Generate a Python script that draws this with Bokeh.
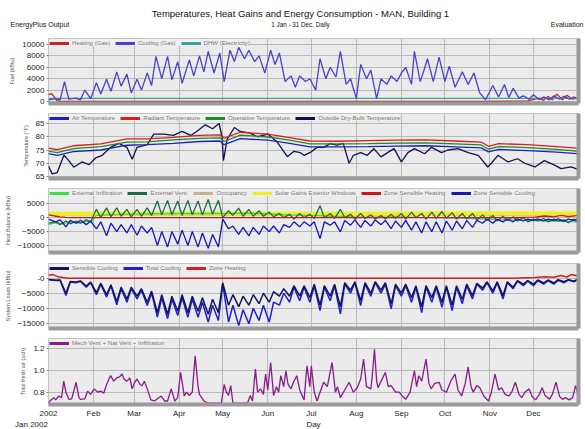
from bokeh.plotting import figure
from bokeh.models import Range1d, FixedTicker, LinearAxis, Label
from bokeh.layouts import column
from bokeh.embed import file_html
from bokeh.resources import INLINE

FONT = "Liberation Sans"

# ---------------- axis / category data ----------------
MONTH_DAYS = [0, 31, 59, 90, 120, 151, 181, 212, 243, 273, 304, 334]
MONTH_LABELS = ["2002", "Feb", "Mar", "Apr", "May", "Jun", "Jul", "Aug", "Sep", "Oct", "Nov", "Dec"]

# ---------------- panel 1 : fuel (kBtu) ----------------
COOLING_GAS = [(0, 300), (5, 500), (8, 300), (11, 3500), (14, 400), (19, 600), (22, 300), (25, 2000),
               (29, 500), (33, 3300), (36, 1300), (40, 3900), (43, 1800), (47, 5200), (50, 2700),
               (54, 4800), (57, 1500), (61, 3900), (64, 2000), (68, 5000), (71, 2800), (74, 7900),
               (78, 4000), (82, 7900), (85, 3800), (89, 7000), (92, 3200), (97, 7300), (100, 4500),
               (104, 8000), (107, 5200), (110, 8800), (114, 5000), (118, 8500), (121, 3500),
               (125, 9000), (128, 7000), (131, 9500), (135, 7500), (138, 9000), (142, 7000),
               (145, 8000), (149, 5000), (153, 9000), (156, 6500), (159, 8500), (163, 3500),
               (167, 4500), (170, 2500), (173, 4500), (177, 3500), (180, 4000), (184, 2000),
               (187, 7500), (191, 4000), (194, 6000), (198, 4300), (201, 8800), (205, 3000),
               (208, 4000), (212, 500), (215, 6500), (219, 4000), (222, 5500), (226, 500),
               (229, 4000), (233, 3000), (236, 4500), (240, 3500), (243, 5000), (246, 6000),
               (250, 3000), (252, 8800), (256, 3500), (258, 5000), (261, 7500), (265, 3500),
               (269, 7800), (273, 3500), (276, 6200), (280, 2500), (285, 5200), (289, 3000),
               (293, 5000), (297, 1500), (301, 300), (306, 2800), (310, 800), (314, 3000),
               (317, 700), (320, 2300), (324, 600), (327, 1000), (331, 400), (334, 1200),
               (338, 300), (341, 800), (345, 300), (348, 1000), (352, 400), (355, 900),
               (359, 400), (362, 800), (364, 500)]
HEATING_GAS = [(0, 1200), (2, 1400), (4, 800), (6, 100), (9, 0), (300, 0), (330, 100), (338, 600),
               (341, 200), (344, 900), (347, 300), (350, 1300), (354, 300), (357, 1100), (361, 400),
               (364, 600)]
DHW_ELEC = [(0, 550), (120, 550), (240, 550), (364, 550)]

# ---------------- panel 2 : temperatures (F) ----------------
ZONE_T_DAYS = [0, 6, 17, 36, 54, 68, 86, 104, 118, 121, 132, 151, 165, 180, 200, 220, 240, 260,
               280, 298, 303, 310, 330, 350, 364]
RADIANT_T = [75.7, 75.1, 76.6, 77.3, 79.2, 79.2, 79.8, 80.5, 80.7, 79.5, 81.7, 81.0, 79.8, 78.4,
             78.3, 78.5, 78.7, 78.8, 78.4, 78.0, 76.4, 77.4, 77.0, 76.3, 75.7]
OPERATIVE_T = [74.6, 74.0, 75.5, 76.3, 78.0, 78.1, 78.8, 79.4, 79.6, 78.2, 80.6, 79.9, 78.8, 77.3,
               77.3, 77.4, 77.6, 77.7, 77.3, 76.9, 75.3, 76.3, 75.9, 75.2, 74.6]
AIR_T = [73.6, 73.0, 74.4, 75.0, 76.8, 77.0, 77.5, 78.2, 78.4, 77.0, 79.3, 78.7, 77.6, 76.2, 76.2,
         76.3, 76.5, 76.6, 76.2, 75.8, 74.3, 75.2, 74.8, 74.2, 73.6]
OUTDOOR_T = [(0, 69), (2.5, 66), (6, 66.5), (10.6, 73), (14, 71), (17.4, 68.5), (23, 70.5),
             (28, 69.5), (32.4, 72), (37, 73), (42.7, 76), (48.4, 77.5), (54, 76), (57.6, 71.5),
             (61, 76), (68, 77), (72.5, 81), (79.5, 81), (86, 80.5), (92, 82), (98, 80.5),
             (102, 82), (108, 84.5), (113, 83), (117.5, 85), (119.5, 80), (120.5, 71), (123, 79),
             (128, 83.5), (132, 82), (138, 81.5), (144, 80), (151, 81), (157.5, 78), (164.5, 72.5),
             (169, 74.5), (173.5, 74), (176, 73), (180, 74), (185, 76), (189.5, 76), (194, 77.4),
             (198.6, 76.8), (203, 77.5), (207, 70), (210, 73), (215, 74), (219.5, 73), (224, 75.5),
             (229, 72.4), (233.5, 74), (238, 75.5), (243, 70.5), (247.5, 74), (252, 75.5),
             (259, 73.6), (263.8, 76), (270.7, 74), (275, 75), (282, 75.5), (289, 74), (296, 73),
             (302.5, 68.6), (305, 70), (309.5, 73), (316.5, 70.5), (323, 71.7), (328, 70),
             (335, 68.6), (341.5, 71), (348.5, 69.3), (353, 68), (360, 68.6), (364.5, 67.7)]

# ---------------- weekly sample days used by panels 3 and 4 ----------------
WEEK_DAYS = [0, 5, 8, 12, 15, 19, 22, 26, 29, 33,
             36, 40, 43, 47, 50, 54, 57, 61, 64, 68,
             71, 75, 78, 82, 85, 89, 92, 96, 99, 103,
             106, 110, 113, 117, 120, 124, 127, 131, 134, 138,
             141, 145, 148, 152, 155, 159, 162, 166, 169, 173,
             176, 180, 183, 187, 190, 194, 197, 201, 204, 208,
             211, 215, 218, 222, 225, 229, 232, 236, 239, 243,
             246, 250, 253, 257, 260, 264, 267, 271, 274, 278,
             281, 285, 288, 292, 295, 299, 302, 306, 309, 313,
             316, 320, 323, 327, 330, 334, 337, 341, 344, 348,
             351, 355, 358, 362, 364]

# ---------------- panel 3 : heat balance (kBtu) ----------------
EXT_INFILTRATION = [(0, -2500), (5, -1800), (10, -2200), (15, -1500), (20, -2000), (25, -1500),
                    (30, -1200), (33, 800), (40, 1000), (50, 1200), (60, 1300), (75, 1400),
                    (90, 1500), (105, 1500), (120, 1500), (135, 1600), (150, 1400), (165, 1000),
                    (180, 800), (195, 500), (210, 300), (225, 200), (240, 300), (255, 100),
                    (270, 0), (285, -200), (300, -500), (315, -800), (330, -1000), (345, -1200),
                    (364, -1500)]
EXT_VENT = [-2000, -1500, -2500, -1200, -2200, -1200, -2000, -800, -1500, 3000,
            0, 3500, 300, 3500, 500, 3000, 300, 3000, 500, 3500,
            800, 6000, 1000, 6200, 1000, 6000, 800, 6200, 1000, 6000,
            1000, 6500, 1200, 6200, 0, 2500, 800, 3400, 500, 3000,
            500, 2500, 500, 2000, 300, 1500, 0, 1200, -500, 1500,
            0, 1200, -300, 4300, 0, 1500, -300, 3000, 0, 1200,
            -500, 1500, -300, 1000, -500, 800, -500, 1200, -300, 1500,
            -500, 2000, 0, 1500, -500, 2000, -300, 2200, -200, 1800,
            -500, 1500, -500, 1500, -800, 1000, -1000, 800, -1200, 500,
            -1000, 300, -1200, 0, -1500, -500, -1200, -300, -1500, -500,
            -1200, -800, -1800, -500, -1500]
OCCUPANCY = [(0, 1000), (120, 1000), (240, 1000), (364, 1000)]
SOLAR_WINDOWS = [(0, 1400), (60, 1500), (120, 1500), (180, 1400), (240, 1500), (300, 1600),
                 (364, 1500)]
ZONE_SENS_HEAT = [(0, 1000), (4, 600), (8, 300), (12, 100), (16, 0), (320, 0), (335, 200),
                  (342, 600), (348, 300), (353, 800), (358, 400), (364, 700)]
ZONE_SENS_COOL = [-500, -1500, -800, -3300, -1000, -2000, -900, -2500, -1200, -4000,
                  -1500, -6500, -2000, -5000, -2500, -5500, -2500, -6300, -3000, -5500,
                  -3500, -10000, -5000, -10500, -5000, -9500, -4500, -10000, -5000, -10500,
                  -5500, -11000, -6000, -10500, -500, -4000, -3000, -6000, -3500, -6500,
                  -3500, -6000, -3000, -5000, -3000, -5500, -2500, -3500, -1500, -3300,
                  -1500, -3000, -1500, -7500, -1500, -2700, -1500, -5100, -1000, -2700,
                  -800, -3500, -1000, -3000, -800, -2500, -1000, -3900, -1200, -3500,
                  -1000, -4500, -1500, -5500, -1500, -5000, -1500, -5500, -1200, -4500,
                  -1200, -4000, -1000, -3500, -1000, -2000, -500, -2000, -600, -1500,
                  -500, -1500, -400, -1200, -500, -1000, -400, -1200, -500, -1000,
                  -400, -1300, -500, -1000, -500]

# ---------------- panel 4 : system loads (kBtu) ----------------
SENSIBLE_COOLING = [-400, -700, -600, -5000, -1100, -1300, -900, -2600, -1300, -4800,
                    -1700, -5500, -2200, -7800, -3000, -7000, -3000, -6000, -3500, -8000,
                    -4300, -11500, -5500, -12000, -6000, -11000, -5500, -11500, -6000, -11000,
                    -6500, -12000, -7000, -11500, -1500, -9000, -5500, -9500, -6000, -9000,
                    -5500, -8500, -5000, -8000, -4500, -6000, -3500, -6000, -2500, -6000,
                    -2500, -6500, -2000, -9000, -2500, -6000, -2000, -9500, -1500, -4000,
                    -1200, -7500, -1500, -5000, -1200, -4000, -1500, -8500, -2000, -5000,
                    -2000, -6500, -2500, -9500, -2500, -6500, -2500, -8000, -2500, -9000,
                    -2500, -7000, -2000, -5800, -1700, -3300, -1200, -4200, -1200, -5800,
                    -1200, -3000, -800, -2000, -800, -2000, -600, -1600, -600, -1600,
                    -500, -1200, -500, -1000, -400]
TOTAL_COOLING = [-450, -800, -700, -5800, -1300, -1500, -1000, -3000, -1500, -5500,
                 -2000, -6300, -2500, -8900, -3500, -8000, -3500, -6900, -4000, -9100,
                 -5000, -13000, -6500, -13500, -7000, -12400, -6500, -13000, -7000, -13000,
                 -8000, -14600, -9000, -14100, -2000, -14600, -9000, -15800, -10500, -15200,
                 -10000, -14100, -9000, -14600, -8000, -9000, -5000, -8000, -3000, -7500,
                 -3000, -8000, -2500, -10800, -3000, -7500, -2500, -11900, -2000, -5000,
                 -1500, -9100, -2000, -6000, -1500, -5000, -2000, -10200, -2500, -6000,
                 -2500, -8000, -3000, -11500, -3000, -8000, -3000, -9700, -3000, -10800,
                 -3000, -8500, -2500, -6900, -2000, -4000, -1500, -5000, -1500, -6900,
                 -1500, -3500, -1000, -2500, -1000, -2500, -800, -2000, -800, -2000,
                 -700, -1500, -600, -1200, -500]
ZONE_HEATING = [(0, 1000), (3, 1200), (6, 600), (10, 200), (14, 0), (320, 0), (335, 200),
                (342, 500), (348, 300), (353, 900), (357, 400), (360, 1200), (364, 800)]

# ---------------- panel 5 : total fresh air (ach) ----------------
FRESH_AIR = [(0, 0.70), (1, 0.72), (3.6, 0.75), (5, 0.73), (7, 0.765), (9, 0.75), (10.5, 0.90),
             (12, 0.80), (14, 0.735), (16, 0.74), (19, 0.89), (21, 0.75), (22, 0.735), (25, 0.74),
             (27, 0.81), (29, 0.78), (31.5, 0.83), (34, 0.80), (36, 0.81), (38, 0.79), (40, 0.87),
             (42.7, 0.95), (45, 0.90), (47, 0.93), (49, 0.94), (50.7, 0.965), (52, 0.92),
             (54, 0.90), (56, 0.93), (57.6, 0.83), (59, 0.88), (61, 0.92), (63, 0.87),
             (64.5, 0.86), (66, 0.90), (68, 0.83), (70.5, 0.73), (73, 0.72), (75, 0.74),
             (77.6, 0.765), (80, 0.72), (82, 0.72), (84.5, 0.83), (87, 0.72), (89, 0.75),
             (91, 0.98), (93.5, 0.765), (95, 0.80), (97, 0.77), (99, 0.80), (101, 1.13),
             (103, 0.85), (104, 0.78), (107, 0.72), (110, 0.70), (115, 0.70), (119, 0.70),
             (121, 0.87), (122.5, 0.80), (124, 0.77), (125.5, 0.86), (127, 0.70), (133, 0.70),
             (137, 0.70), (139, 0.77), (140.5, 0.72), (142.5, 1.01), (144, 0.80), (146, 0.83),
             (148, 0.78), (149.5, 0.965), (151, 0.82), (153, 1.07), (155, 0.77), (157, 0.85),
             (158.5, 0.80), (160, 0.95), (162, 0.85), (163.5, 0.995), (165, 0.87), (167, 0.83),
             (169, 0.90), (171, 0.95), (173, 0.82), (176, 0.73), (178, 1.04), (180, 0.85),
             (181, 1.04), (183, 0.80), (185, 0.72), (187, 0.80), (189.5, 0.89), (192, 0.85),
             (195.3, 1.07), (197.6, 0.80), (199, 0.85), (201, 0.75), (204, 0.82), (207, 0.89),
             (210, 0.80), (212.6, 0.84), (215, 0.92), (217, 1.10), (219, 0.85), (222, 0.83),
             (223, 0.95), (224.5, 1.19), (226, 0.90), (227, 0.84), (229, 0.90), (232, 0.98),
             (234, 0.85), (236, 0.86), (239, 0.80), (241.5, 0.80), (244, 0.76), (246, 0.735),
             (249, 0.80), (252, 0.995), (253.5, 0.85), (255, 0.95), (257, 0.90), (260, 1.10),
             (262, 0.88), (263.5, 0.83), (266, 0.88), (269, 0.89), (271, 0.82), (274, 0.80),
             (277, 0.90), (280, 0.965), (282, 0.82), (284.5, 0.765), (287, 0.88), (289, 1.03),
             (291, 0.85), (292.5, 0.80), (295, 0.86), (297, 0.84), (300, 0.76), (303, 0.72),
             (305, 0.80), (307.5, 0.965), (310, 0.82), (312, 0.84), (314.5, 0.78), (317, 0.765),
             (319, 0.80), (321.5, 0.89), (324, 0.78), (326, 0.75), (328, 0.80), (331, 0.83),
             (333, 0.76), (335.5, 0.73), (338, 0.78), (340, 0.84), (342, 0.77), (345, 0.735),
             (347, 0.78), (349.5, 0.89), (352, 0.76), (354, 0.735), (356, 0.75), (358.5, 0.73),
             (361, 0.75), (363, 0.86), (365, 0.765)]


def split(pairs):
    return [a for a, _ in pairs], [b for _, b in pairs]


def on_grid(days, vals):
    n = min(len(days), len(vals))
    return list(days[:n]), list(vals[:n])


LEFT, FRAME_W, RIGHT = 48, 530, 6
TOTAL_W = LEFT + FRAME_W + RIGHT
GRID_C = "#b8b8b8"
SHADOW_C = "#9a9a9a"
X_RANGE = (0, 365)


def make_panel(y_lo, y_hi, yticks, ylabel, frame_h, bottom, overrides=None, show_x=False):
    p = figure(frame_width=FRAME_W, frame_height=frame_h,
               x_range=Range1d(*X_RANGE), y_range=Range1d(y_lo, y_hi),
               output_backend="svg", toolbar_location=None,
               min_border_left=LEFT, min_border_right=RIGHT,
               min_border_top=1, min_border_bottom=bottom,
               background_fill_color="#ebebeb", border_fill_color="white",
               outline_line_color="#c4c4c4", outline_line_width=1)
    xa = p.xaxis[0]
    xa.axis_line_width = 4
    xa.axis_line_color = SHADOW_C
    xa.major_tick_out = 0
    xa.major_tick_in = 0
    xa.minor_tick_out = 0
    xa.minor_tick_in = 0
    if show_x:
        xa.ticker = FixedTicker(ticks=MONTH_DAYS)
        xa.major_label_overrides = dict(zip(MONTH_DAYS, MONTH_LABELS))
        xa.major_label_text_font_size = "8px"
        xa.major_label_text_color = "#222222"
        xa.major_label_text_font = FONT
        xa.major_label_standoff = 4
    else:
        xa.ticker = FixedTicker(ticks=[])
    p.xgrid.ticker = FixedTicker(ticks=MONTH_DAYS)

    ya = p.yaxis[0]
    ya.ticker = FixedTicker(ticks=yticks)
    if overrides:
        ya.major_label_overrides = overrides
    ya.axis_line_color = None
    ya.major_tick_out = 2
    ya.major_tick_in = 0
    ya.minor_tick_out = 0
    ya.minor_tick_in = 0
    ya.major_tick_line_color = "#888888"
    ya.major_label_text_font_size = "8px"
    ya.major_label_text_font = FONT
    ya.major_label_text_color = "#222222"
    ya.major_label_standoff = 2
    ya.axis_label = ylabel
    ya.axis_label_text_font_size = "5.5px"
    ya.axis_label_text_font = FONT
    ya.axis_label_text_font_style = "normal"
    ya.axis_label_text_color = "#555555"
    ya.axis_label_standoff = 4

    ra = LinearAxis(axis_line_width=4, axis_line_color=SHADOW_C,
                    major_tick_out=0, major_tick_in=0, minor_tick_out=0, minor_tick_in=0,
                    ticker=FixedTicker(ticks=[]))
    p.add_layout(ra, "right")

    p.xgrid.grid_line_color = GRID_C
    p.ygrid.grid_line_color = GRID_C
    return p


def legend_keys(p, items):
    # a one-point copy of each series carries a thick legend swatch (draws nothing in the plot)
    for name, color, xs, ys in items:
        p.line(x=list(xs[:1]), y=list(ys[:1]), line_color=color, line_width=3, legend_label=name)
    lg = p.legend[0]
    lg.location = "top_left"
    lg.orientation = "horizontal"
    lg.margin = 1
    lg.padding = 1
    lg.spacing = 5
    lg.glyph_width = 20
    lg.glyph_height = 6
    lg.label_height = 7
    lg.label_standoff = 3
    lg.label_text_font_size = "6.1px"
    lg.label_text_font = FONT
    lg.label_text_color = "#777777"
    lg.background_fill_color = "#efefef"
    lg.background_fill_alpha = 1.0
    lg.border_line_color = None


def text_strip(height):
    # full-width strip whose data units are canvas pixels (not aligned with the panel frames)
    f = figure(frame_width=TOTAL_W, frame_height=height, x_range=Range1d(0, TOTAL_W),
               y_range=Range1d(0, height), x_axis_type=None, y_axis_type=None,
               output_backend="svg", toolbar_location=None, min_border=0,
               min_border_left=0, min_border_right=0, min_border_top=0, min_border_bottom=0,
               outline_line_color=None, border_fill_color="white", background_fill_color="white")
    f.frame_align = False
    return f


def put(f, x, y, text, size, align="center", color="#111111"):
    f.add_layout(Label(x=x, y=y, text=text, text_align=align, text_baseline="middle",
                       text_font=FONT, text_font_size=size, text_color=color))


# ---------------- header ----------------
hdr = text_strip(37)
put(hdr, 300, 24, "Temperatures, Heat Gains and Energy Consumption - MAN, Building 1", "9.5px")
put(hdr, 300, 13.5, "1 Jan - 31 Dec, Daily", "6.3px")
put(hdr, 10, 13, "EnergyPlus Output", "7px", align="left")
put(hdr, 583, 13, "Evaluation", "7px", align="right")

# ---------------- panel 1 ----------------
p1 = make_panel(-350, 11050, [0, 2000, 4000, 6000, 8000, 10000], "Fuel (kBtu)", 65, 9)
C_HEAT, C_COOL, C_DHW = "#cc2222", "#4b40c8", "#35a89a"
hx, hy = split(HEATING_GAS)
p1.line(hx, hy, line_color=C_HEAT, line_width=1.3)
dx, dy = split(DHW_ELEC)
p1.line(dx, dy, line_color=C_DHW, line_width=1.3)
cx, cy = split(COOLING_GAS)
p1.line(cx, cy, line_color=C_COOL, line_width=1.3)
legend_keys(p1, [("Heating (Gas)", C_HEAT, hx, hy), ("Cooling (Gas)", C_COOL, cx, cy),
                 ("DHW (Electricity)", C_DHW, dx, dy)])

# ---------------- panel 2 ----------------
p2 = make_panel(64.25, 88.77, [65, 70, 75, 80, 85], "Temperature (°F)", 65, 9)
C_AIR, C_RAD, C_OPR, C_OUT = "#1f1fc0", "#d42020", "#1e8c1e", "#12124a"
ox, oy = split(OUTDOOR_T)
p2.line(ox, oy, line_color=C_OUT, line_width=1.3)
p2.line(ZONE_T_DAYS, AIR_T, line_color=C_AIR, line_width=1.3)
p2.line(ZONE_T_DAYS, OPERATIVE_T, line_color=C_OPR, line_width=1.3)
p2.line(ZONE_T_DAYS, RADIANT_T, line_color=C_RAD, line_width=1.3)
legend_keys(p2, [("Air Temperature", C_AIR, ZONE_T_DAYS, AIR_T),
                 ("Radiant Temperature", C_RAD, ZONE_T_DAYS, RADIANT_T),
                 ("Operative Temperature", C_OPR, ZONE_T_DAYS, OPERATIVE_T),
                 ("Outside Dry-Bulb Temperature", C_OUT, ox, oy)])

# ---------------- panel 3 ----------------
p3 = make_panel(-12500, 10460, [-10000, -5000, 0, 5000], "Heat Balance (kBtu)", 64, 10)
C_INF, C_VENT, C_OCC, C_SOL, C_ZH, C_ZC = "#3ddc4e", "#1d6b45", "#c9b18f", "#f0f020", "#cc1818", "#1717b5"
ocx, ocy = split(OCCUPANCY)
p3.line(ocx, ocy, line_color=C_OCC, line_width=2)
sx, sy = split(SOLAR_WINDOWS)
p3.line(sx, sy, line_color=C_SOL, line_width=4)
ix, iy = split(EXT_INFILTRATION)
p3.line(ix, iy, line_color=C_INF, line_width=1.3)
vx, vy = on_grid(WEEK_DAYS, EXT_VENT)
p3.line(vx, vy, line_color=C_VENT, line_width=1.3)
zhx, zhy = split(ZONE_SENS_HEAT)
p3.line(zhx, zhy, line_color=C_ZH, line_width=1.3)
zcx, zcy = on_grid(WEEK_DAYS, ZONE_SENS_COOL)
p3.line(zcx, zcy, line_color=C_ZC, line_width=1.3)
legend_keys(p3, [("External Infiltration", C_INF, ix, iy), ("External Vent.", C_VENT, vx, vy),
                 ("Occupancy", C_OCC, ocx, ocy), ("Solar Gains Exterior Windows", C_SOL, sx, sy),
                 ("Zone Sensible Heating", C_ZH, zhx, zhy), ("Zone Sensible Cooling", C_ZC, zcx, zcy)])

# ---------------- panel 4 ----------------
p4 = make_panel(-16770, 4900, [-15000, -10000, -5000, 0], "System Loads (kBtu)", 65, 9,
                overrides={0: "-0"})
C_SC, C_TC, C_H = "#14145a", "#2020d0", "#d02020"
zx_, zy_ = split(ZONE_HEATING)
p4.line(zx_, zy_, line_color=C_H, line_width=1.5)
tx, ty = on_grid(WEEK_DAYS, TOTAL_COOLING)
p4.line(tx, ty, line_color=C_TC, line_width=1.5)
scx, scy = on_grid(WEEK_DAYS, SENSIBLE_COOLING)
p4.line(scx, scy, line_color=C_SC, line_width=1.5)
legend_keys(p4, [("Sensible Cooling", C_SC, scx, scy), ("Total Cooling", C_TC, tx, ty),
                 ("Zone Heating", C_H, zx_, zy_)])

# ---------------- panel 5 ----------------
p5 = make_panel(0.688, 1.288, [0.8, 1.0, 1.2], "Total fresh air (ach)", 66, 13,
                overrides={0.8: "0.8", 1.0: "1.0", 1.2: "1.2"}, show_x=True)
C_FA = "#8a1a8a"
fx, fy = split(FRESH_AIR)
p5.line(fx, fy, line_color=C_FA, line_width=1.3)
legend_keys(p5, [("Mech Vent + Nat Vent + Infiltration", C_FA, fx, fy)])

# ---------------- footer ----------------
ftr = text_strip(12)
put(ftr, 31, 8, "Jan 2002", "8px", color="#222222")
put(ftr, 313, 8, "Day", "8px", color="#222222")

layout = column(hdr, p1, p2, p3, p4, p5, ftr, spacing=0)
open("out.html", "w").write(file_html(layout, INLINE))
